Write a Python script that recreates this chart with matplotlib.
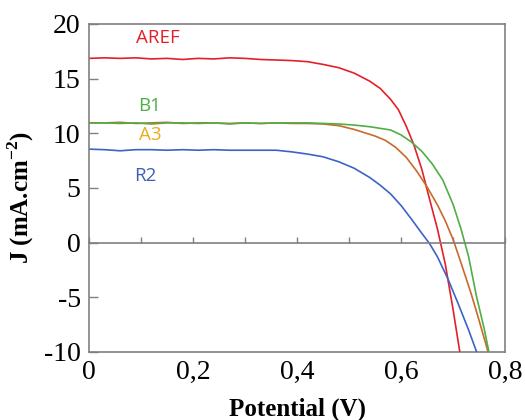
import numpy as np
import matplotlib
matplotlib.use('Agg')
from matplotlib import pyplot as plt

# J-V curves
v_flat = [0, 0.03, 0.06, 0.09, 0.12, 0.15, 0.18, 0.21, 0.24, 0.27, 0.30, 0.33, 0.36, 0.39]

aref_v = v_flat + [0.42, 0.45, 0.48, 0.51, 0.54, 0.56, 0.58, 0.595, 0.61, 0.625, 0.64, 0.655, 0.67, 0.685,
                   0.70, 0.72]
aref_j = [16.85, 16.9, 16.85, 16.9, 16.8, 16.85, 16.75, 16.85, 16.8, 16.9, 16.85, 16.75, 16.7, 16.65,
          16.55, 16.3, 16.0, 15.5, 14.76, 14.1, 13.1, 12.15, 10.65, 8.9, 6.7, 3.95, 1.25, -1.95,
          -6.1, -12.1]

b1_v = v_flat + [0.42, 0.45, 0.48, 0.51, 0.54, 0.56, 0.58, 0.60, 0.62, 0.64, 0.66, 0.68, 0.70, 0.715, 0.73,
                 0.745, 0.76, 0.775]
b1_j = [10.95, 10.95, 10.9, 10.95, 10.85, 10.95, 10.95, 10.9, 10.95, 10.85, 10.95, 10.9, 10.95, 10.95,
        10.95, 10.9, 10.85, 10.75, 10.6, 10.45, 10.3, 9.85, 9.2, 8.35, 7.2, 5.75, 3.5, 1.3, -1.3,
        -4.9, -7.9, -11.4]

a3_v = v_flat + [0.42, 0.45, 0.48, 0.51, 0.53, 0.55, 0.57, 0.59, 0.61, 0.63, 0.65, 0.67, 0.685, 0.70, 0.715,
                 0.735, 0.75, 0.765, 0.78]
a3_j = [10.95, 10.95, 11.0, 10.9, 10.95, 11.0, 10.9, 10.95, 10.95, 10.9, 10.95, 10.9, 10.95, 10.9,
        10.9, 10.85, 10.7, 10.35, 10.05, 9.75, 9.35, 8.7, 7.8, 6.55, 5.1, 3.45, 2.0, 0.3, -1.8,
        -4.7, -7.1, -9.6, -12.2]

r2_v = v_flat + [0.42, 0.45, 0.48, 0.51, 0.54, 0.56, 0.58, 0.60, 0.62, 0.64, 0.655, 0.67, 0.69, 0.71,
                 0.73, 0.75]
r2_j = [8.55, 8.5, 8.4, 8.5, 8.5, 8.45, 8.5, 8.45, 8.5, 8.45, 8.45, 8.45, 8.45, 8.3,
        8.1, 7.85, 7.4, 6.8, 5.95, 5.25, 4.45, 3.4, 2.15, 0.85, -0.1, -1.3, -3.3, -5.6,
        -8.0, -10.6]

x_labels = ['0', '0,2', '0,4', '0,6', '0,8']
y_ticks = [-10, -5, 0, 5, 10, 15, 20]

red = '#e3202a'
green = '#4fae45'
orange = '#c96a2a'
blue = '#3c63c6'
gray = '#808080'

fig = plt.figure(figsize=(5.25, 4.2), dpi=100)
ax = fig.add_axes([0.1695, 0.162, 0.7925, 0.781])

ax.plot(aref_v, aref_j, color=red, lw=1.2)
ax.plot(a3_v, a3_j, color=orange, lw=1.2)
ax.plot(b1_v, b1_j, color=green, lw=1.2)
ax.plot(r2_v, r2_j, color=blue, lw=1.2)

ax.set_xlim(0, 0.8)
ax.set_ylim(-10, 20)

# zero line carries the small x ticks
ax.spines['bottom'].set_position(('data', 0))
for s in ax.spines.values():
    s.set_color(gray)
    s.set_linewidth(1.2)
ax.set_xticks(np.arange(0, 0.81, 0.1))
ax.tick_params(axis='x', direction='in', length=4.5, width=1, color=gray, labelbottom=False)

sec = ax.secondary_xaxis(0.0)
sec.set_xticks([0, 0.2, 0.4, 0.6, 0.8])
sec.set_xticklabels(x_labels, family='Liberation Serif', fontsize=20)
sec.tick_params(length=0, pad=6)
sec.spines['bottom'].set_color(gray)
sec.spines['bottom'].set_linewidth(1.2)

ax.set_yticks(y_ticks)
ax.set_yticklabels([str(t) for t in y_ticks], family='Liberation Serif', fontsize=20)
ax.tick_params(axis='y', direction='in', length=6.5, width=1, color=gray, pad=6)

fig.text(0.04, 0.53, 'J (mA.cm$^{\\mathregular{-2}}$)', rotation=90, ha='center', va='center',
         family='Liberation Serif', fontweight='bold', fontsize=18)
fig.text(0.566, 0.026, 'Potential (V)', ha='center', va='center',
         family='Liberation Serif', fontweight='bold', fontsize=18)

lab = dict(family='Open Sans', fontsize=13.5, ha='center', va='center')
ax.text(0.133, 18.75, 'AREF', color=red, **lab)
ax.text(0.117, 12.5, 'B1', color=green, **lab)
ax.text(0.117, 9.8, 'A3', color='#e8ad1e', **lab)
ax.text(0.108, 6.07, 'R2', color='#3a5fb8', **lab)

plt.savefig('out.png', dpi=100)
